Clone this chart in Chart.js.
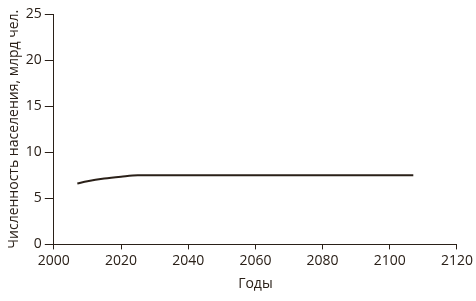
<!DOCTYPE html>
<html><head><meta charset="utf-8">
<script src="https://cdn.jsdelivr.net/npm/chart.js@4"></script>
<style>html,body{margin:0;padding:0;background:#fff}#w{width:476px;height:301px}</style>
</head><body><div id="w"><canvas id="c"></canvas></div>
<script>
const years = [2007, 2010, 2015, 2020, 2025, 2030, 2050, 2070, 2090, 2107];
const population = [6.6, 6.85, 7.15, 7.35, 7.5, 7.5, 7.5, 7.5, 7.5, 7.5];
const xTicks = [2000, 2020, 2040, 2060, 2080, 2100, 2120];
const yTicks = [0, 5, 10, 15, 20, 25];
const xTitle = 'Годы';
const yTitle = 'Численность населения, млрд чел.';

const ink = '#2a2018';
const font = {family: "'Open Sans', sans-serif", size: 14};
new Chart(document.getElementById('c'), {
  type: 'scatter',
  data: {datasets: [{
    data: years.map((y, i) => ({x: y, y: population[i]})),
    showLine: true, borderColor: ink, borderWidth: 2, pointRadius: 0,
    cubicInterpolationMode: 'monotone', fill: false
  }]},
  options: {
    responsive: true, maintainAspectRatio: false, animation: false,
    devicePixelRatio: 1,
    layout: {padding: {top: 14, right: 8, left: 6, bottom: 6}},
    plugins: {legend: {display: false}, tooltip: {enabled: false}},
    scales: {
      x: {
        type: 'linear', min: xTicks[0], max: xTicks[xTicks.length - 1],
        afterBuildTicks: s => { s.ticks = xTicks.map(v => ({value: v})); },
        ticks: {color: ink, font, padding: 3, maxRotation: 0, callback: v => String(v)},
        grid: {drawOnChartArea: false, drawTicks: true, tickLength: 5, color: ink, lineWidth: 1},
        border: {display: true, color: ink, width: 1},
        title: {display: true, text: xTitle, color: ink, font, padding: {top: 3, bottom: 3}}
      },
      y: {
        min: yTicks[0], max: yTicks[yTicks.length - 1],
        afterBuildTicks: s => { s.ticks = yTicks.map(v => ({value: v})); },
        ticks: {color: ink, font, padding: 3},
        grid: {drawOnChartArea: false, drawTicks: true, tickLength: 9, color: ink, lineWidth: 1},
        border: {display: true, color: ink, width: 1},
        title: {display: true, text: yTitle, color: ink, font, padding: {top: 0, bottom: 0}}
      }
    }
  }
});
</script></body></html>
